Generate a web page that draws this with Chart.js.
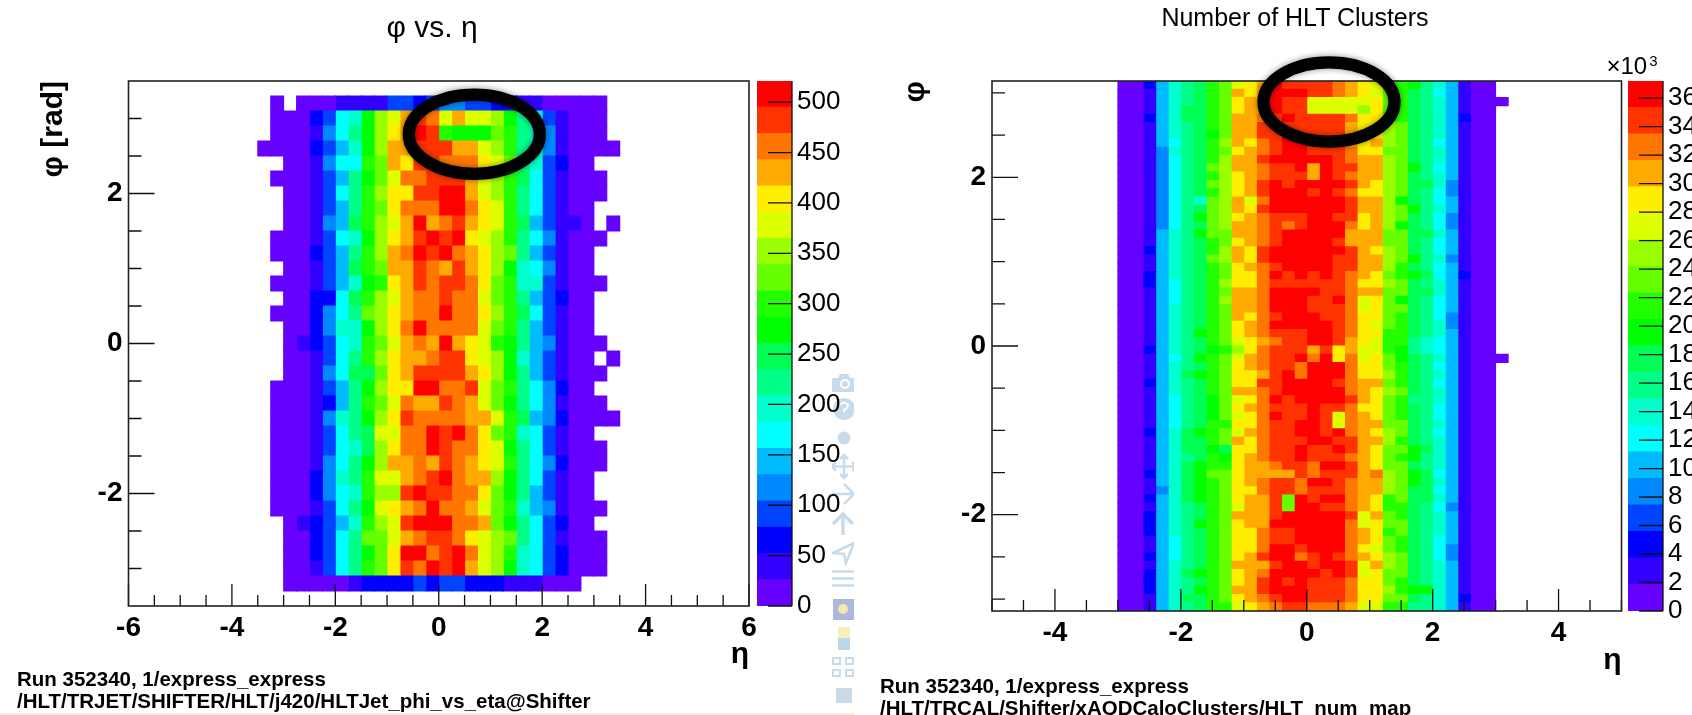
<!DOCTYPE html>
<html><head><meta charset="utf-8">
<script src="https://cdn.jsdelivr.net/npm/chart.js@4"></script>
<style>
html,body{margin:0;padding:0;background:#fff;width:1692px;height:715px;overflow:hidden}
canvas{position:absolute;top:0}
.foot{position:absolute;font:bold 20.5px "Liberation Sans",Arial,sans-serif;color:#000;white-space:nowrap;line-height:22px}
.ttl{position:absolute;font-family:"Liberation Sans",Arial,sans-serif;color:#000;white-space:nowrap;transform:translate(-50%,-50%);line-height:1.2}
sup{font-size:15px;line-height:0;vertical-align:8px;margin-left:2px}
</style></head><body>
<svg style="position:absolute;left:832px;top:370px" width="22" height="340" viewBox="832 370 22 340" fill="#c8dbeb" stroke="none">
  <path d="M832 378h6l2-4h8l2 4h6v14h-24z"/><circle cx="845" cy="384" r="5" fill="#fff"/><circle cx="845" cy="384" r="3"/>
  <circle cx="844" cy="409" r="11"/><path d="M840 405q4-5 8 0q0 3-4 5v2" fill="none" stroke="#fff" stroke-width="2"/>
  <circle cx="844" cy="438" r="6.5"/>
  <path d="M844 455v23M832 466.500h22M840 459l4-4 4 4M840 474l4 4 4-4M836 462l-4 4.500 4 4.500M852 462l4 4.500-4 4.500" fill="none" stroke="#c8dbeb" stroke-width="2.500"/>
  <path d="M832 494h22M844 484l10 10-10 10" fill="none" stroke="#c8dbeb" stroke-width="2.500"/>
  <path d="M843 535v-20M833 524l10-10 10 10" fill="none" stroke="#c8dbeb" stroke-width="3.500"/>
  <path d="M833 553l21-10-8 20-2-9z" fill="none" stroke="#c8dbeb" stroke-width="2.500"/>
  <path d="M832 571.500h22M832 578.500h22M832 585.500h22" fill="none" stroke="#c8dbeb" stroke-width="2.500"/>
  <rect x="833" y="599" width="21" height="21" fill="#aab8e0"/><circle cx="843" cy="609" r="5" fill="#f3e9a8"/>
  <rect x="838" y="627" width="12" height="11" fill="#f9efb8"/><rect x="838" y="638" width="12" height="12" fill="#bcd6ea"/>
  <path d="M833 658h7v6h-7zM846 658h7v6h-7zM833 670h7v6h-7zM846 670h7v6h-7z" fill="none" stroke="#c8dbeb" stroke-width="2"/>
  <rect x="836" y="688" width="16" height="15"/>
</svg>
<div style="position:absolute;left:0;top:713px;width:854px;height:2px;background:#ecefe0"></div>
<canvas id="leftMap" width="864" height="715" style="left:0"></canvas>
<canvas id="leftBar" width="100" height="715" style="left:757px"></canvas>
<canvas id="rightMap" width="794" height="715" style="left:898px"></canvas>
<canvas id="rightBar" width="64" height="715" style="left:1628px"></canvas>
<div class="ttl" style="left:432px;top:27px;font-size:30px">φ vs. η</div>
<div class="ttl" style="left:1295px;top:17px;font-size:25px">Number of HLT Clusters</div>
<div class="ttl" style="left:1632px;top:66px;font-size:24px">×10<sup>3</sup></div>
<div class="foot" style="left:17px;top:668px">Run 352340, 1/express_express<br>/HLT/TRJET/SHIFTER/HLT/j420/HLTJet_phi_vs_eta@Shifter</div>
<div class="foot" style="left:880px;top:675px">Run 352340, 1/express_express<br>/HLT/TRCAL/Shifter/xAODCaloClusters/HLT_num_map</div>
<script>
const _ = null;
// ROOT rainbow palette, lowest band first
const palette = ['#6600FF','#3300FF','#0000FF','#0044FF','#0088FF','#00BBFF','#00FFFF','#00FFCC','#00FF88','#00FF55',
  '#00FF00','#22FF00','#66FF00','#99FF00','#DDFF00','#FFEE00','#FFAA00','#FF7700','#FF3300','#FF0000'];

// Left panel: colour band read for each cell; rows run from the top (phi max), 28 eta bins
const jetRows = [
[_,0,_,0,0,0,1,1,1,1,3,3,2,3,4,4,3,3,2,2,1,1,0,0,0,0,0,_],
[_,0,0,0,2,3,6,7,10,13,14,16,18,17,14,16,14,14,13,10,8,6,3,1,0,0,0,_],
[_,0,0,0,1,4,6,8,10,13,15,16,19,18,11,10,10,10,12,11,8,7,4,1,0,0,0,_],
[0,0,0,0,2,3,5,7,10,13,16,16,18,18,18,16,16,14,13,11,8,7,4,1,0,0,0,0],
[_,_,0,0,1,4,6,6,11,12,16,15,18,18,17,17,17,15,14,12,8,7,3,2,0,0,_,_],
[_,0,0,0,1,3,5,8,10,12,14,17,17,18,18,18,16,14,13,11,9,6,3,1,0,0,0,_],
[_,_,0,0,1,3,6,8,11,13,15,15,18,18,19,19,16,14,13,11,8,6,3,1,0,0,0,_],
[_,_,0,0,1,3,5,8,11,12,15,17,17,17,19,19,17,15,14,11,8,6,3,1,0,0,_,_],
[_,_,0,0,1,4,5,9,11,13,14,16,19,16,17,18,16,15,14,11,9,5,3,1,1,0,_,0],
[_,0,0,0,1,3,6,7,10,13,15,16,18,19,18,19,15,14,13,11,8,6,4,1,0,0,0,_],
[_,0,0,0,2,3,5,8,11,13,16,17,19,18,19,17,16,15,13,12,8,5,3,1,0,0,_,_],
[_,_,0,0,1,3,5,9,11,12,16,16,18,17,16,18,16,15,13,10,7,6,4,1,0,0,_,_],
[_,0,0,0,1,3,5,7,10,11,15,16,18,17,18,18,17,15,12,11,7,7,3,1,0,0,0,_],
[_,_,0,0,2,2,6,9,11,13,14,16,17,17,18,17,17,14,12,11,8,5,3,2,0,0,_,_],
[_,0,0,0,2,4,6,8,12,13,15,16,17,17,19,17,17,15,13,11,9,6,3,1,0,0,_,_],
[_,_,0,0,2,4,7,7,10,13,15,17,19,17,17,17,17,14,12,11,8,5,3,1,0,0,_,_],
[_,_,0,1,2,3,6,7,11,12,14,16,17,16,19,16,15,14,11,10,8,5,4,1,0,0,0,_],
[_,_,0,0,1,3,6,8,11,13,15,16,16,17,18,18,15,14,13,10,7,5,3,1,0,0,_,0],
[_,_,0,0,1,4,6,9,9,12,15,16,18,18,18,18,16,15,13,10,8,5,3,1,0,0,0,_],
[_,0,0,0,1,3,5,8,10,13,15,15,19,19,17,17,18,14,12,11,8,6,4,2,0,0,_,_],
[_,0,0,0,1,2,5,8,11,12,14,17,16,16,18,17,16,14,12,10,8,6,4,1,0,0,0,_],
[_,0,0,0,1,4,7,8,10,13,15,18,17,17,17,17,16,16,14,11,9,5,4,2,0,0,0,0],
[_,0,0,0,1,3,6,8,9,14,14,17,17,19,18,19,17,15,12,11,7,6,3,1,0,0,_,_],
[_,0,0,0,1,3,6,7,9,13,15,17,17,19,18,17,17,15,14,10,8,6,3,1,0,0,0,_],
[_,0,0,0,1,4,6,8,10,13,16,16,17,16,18,17,16,15,14,11,8,6,4,2,0,0,0,_],
[_,0,0,0,2,4,7,8,11,14,14,16,17,18,19,17,16,16,13,10,8,6,3,1,0,0,_,_],
[_,0,0,0,2,4,6,7,11,13,13,18,19,18,18,17,17,15,12,10,8,5,3,1,0,0,_,_],
[_,0,0,0,1,3,6,8,10,14,15,16,17,19,17,17,16,14,12,11,7,5,4,1,0,0,0,_],
[_,_,0,1,2,3,5,7,11,13,14,18,19,19,19,17,17,16,12,10,8,6,3,2,0,0,_,_],
[_,_,0,0,2,3,6,8,12,12,14,16,17,18,18,17,15,14,13,12,8,6,3,1,0,0,0,_],
[_,_,0,0,2,3,6,8,10,12,15,19,19,17,18,19,17,14,13,11,7,6,3,2,0,0,0,_],
[_,_,0,0,1,3,6,8,11,12,15,18,17,19,18,19,16,14,13,10,7,6,3,2,0,0,0,_],
[_,_,0,0,0,0,0,1,2,2,2,2,3,2,3,3,2,2,2,1,1,1,0,0,0,_,_,_]
];

// Right panel: colour band read for each cell; columns run from eta -3 in 0.2 steps, 64 phi bins from the top
const edge = [0,0,0,0,0,0,0,0,0,0,0,0,0,0,0,0, 0,0,0,0,0,0,0,0,0,0,0,0,0,0,0,0, 0,0,0,0,0,0,0,0,0,0,0,0,0,0,0,0, 0,0,0,0,0,0,0,0,0,0,0,0,0,0,0,0];
const c2=[2,1,1,1,2,1,1,1,1,1,1,1,1,1,1,1, 1,1,1,1,2,1,1,2,2,1,1,1,1,1,1,1, 2,1,1,1,2,1,1,1,1,1,2,1,1,1,1,2, 1,1,2,1,2,2,2,1,1,2,1,2,2,2,1,1];
const c3=[5,5,5,5,5,5,5,5,4,4,4,4,4,4,4,4, 4,4,5,5,5,5,5,5,5,5,5,5,5,5,5,5, 5,5,5,5,5,5,5,5,5,5,5,5,5,5,5,5, 5,4,5,5,5,5,5,5,5,5,5,5,5,5,5,5];
const c4=[7,7,7,7,7,7,7,6,7,6,6,6,6,6,6,6, 6,6,7,7,7,7,7,7,6,6,6,7,7,7,7,7, 7,6,7,7,7,7,6,6,6,6,7,7,7,7,7,7, 7,7,7,7,7,7,7,6,6,6,7,7,7,7,7,7];
const c5=[8,8,8,9,9,8,8,8,8,8,8,8,8,8,8,8, 8,8,8,8,8,8,8,8,8,8,8,8,8,8,8,8, 8,8,8,9,8,8,8,8,8,8,9,9,9,8,9,9, 9,9,9,8,8,8,8,8,8,8,8,9,8,8,9,8];
const c6=[9,9,9,9,9,9,9,9,9,9,9,9,9,9,7,9, 10,9,10,9,9,9,9,9,9,9,9,9,9,9,10,9, 9,10,9,10,9,9,9,9,9,9,10,9,9,9,10,10, 10,10,10,9,9,10,9,9,9,9,9,10,9,10,9,9];
const c7=[11,11,11,11,11,11,10,11,11,11,12,11,12,11,12,12, 12,12,12,11,11,12,11,11,11,11,11,11,11,11,11,11, 10,11,11,11,11,11,10,10,10,11,11,11,10,11,11,12, 11,11,11,11,11,11,11,11,11,11,11,11,11,11,11,11];
const c8=[12,12,12,12,12,12,12,13,12,13,13,13,13,13,13,13, 13,13,12,12,13,13,12,12,13,12,13,12,12,12,12,12, 11,12,12,12,12,12,12,12,12,11,12,12,9,10,11,12, 12,12,12,12,12,12,12,12,12,12,12,12,12,12,12,11];
const c9=[14,16,15,15,16,16,16,16,15,16,16,15,15,15,16,16, 15,16,16,15,16,16,15,15,15,16,16,16,16,15,15,14, 13,14,15,15,15,16,14,15,14,15,14,16,15,15,15,15, 15,15,15,14,16,15,15,15,15,15,16,15,15,16,15,14];
const c10=[15,15,16,16,16,16,16,15,16,16,16,16,16,16,14,15, 16,16,16,16,15,15,16,15,15,16,16,16,15,16,16,15, 15,16,16,15,15,16,15,16,15,15,16,15,15,16,16,16, 16,15,16,16,16,16,15,15,15,16,16,16,16,16,16,15];
const c11=[16,16,16,16,17,18,18,17,17,18,17,17,18,18,17,18, 17,17,17,17,18,18,17,17,17,17,17,17,17,17,17,16, 17,17,17,16,18,17,17,17,17,17,17,17,17,17,16,16, 17,17,16,16,16,16,17,17,17,18,16,17,18,18,17,16];
const c12=[19,19,19,19,18,18,18,18,18,19,18,18,19,19,19,19, 18,18,18,18,19,19,18,19,18,19,19,19,18,19,18,17, 18,18,18,18,18,18,19,18,19,18,18,18,18,18,17,16, 18,18,18,18,18,19,18,18,19,19,18,19,19,19,18,17];
const c13=[18,19,18,18,19,18,19,19,19,19,18,18,18,19,19,19, 18,17,19,19,19,19,19,18,18,19,19,19,19,19,18,18, 18,18,18,19,19,19,18,18,18,18,18,18,18,18,18,16, 18,18,12,12,19,19,18,18,19,19,19,19,18,19,19,18];
const c14=[18,19,18,18,18,18,18,19,19,19,19,18,19,19,19,19, 18,18,19,19,19,19,19,19,18,19,19,19,19,19,18,18, 18,19,17,17,19,19,19,18,18,19,19,18,19,19,18,18, 17,17,19,19,19,19,19,19,18,17,19,19,19,19,19,18];
const c15=[18,18,14,14,18,18,18,18,18,19,16,16,19,18,19,19, 19,19,19,19,19,19,19,18,18,19,18,18,19,19,19,19, 16,17,19,19,19,19,19,19,19,19,19,19,18,18,17,17, 19,18,18,19,19,19,19,19,19,18,18,19,18,18,18,17];
const c16=[18,18,14,14,18,18,18,19,18,19,19,19,19,19,19,19, 19,19,19,19,19,19,19,19,18,18,18,18,18,19,19,19, 18,19,19,19,19,19,19,18,18,18,18,19,18,18,19,18, 19,18,19,18,19,19,19,19,19,19,19,18,18,18,18,17];
const c17=[17,17,14,14,18,18,18,18,18,18,18,18,19,18,19,19, 18,19,19,18,19,18,18,18,18,18,19,18,18,18,18,18, 15,15,19,19,18,19,19,18,14,14,19,18,19,18,19,18, 18,18,19,18,19,19,19,19,19,18,19,19,18,18,18,17];
const c18=[16,16,14,14,17,16,16,16,17,17,18,17,18,17,18,18, 18,17,16,16,18,18,18,17,17,17,17,17,17,17,17,16, 16,17,17,17,17,17,18,17,17,17,17,18,18,17,18,18, 17,17,17,17,18,17,17,17,17,17,18,18,17,17,17,16];
const c19=[15,15,14,13,15,15,15,15,15,16,16,16,16,15,16,16, 15,15,16,16,16,16,16,16,15,16,14,14,15,15,15,15, 14,14,15,15,16,16,16,15,16,16,16,16,16,16,16,16, 16,16,16,16,14,14,16,16,15,16,14,14,15,15,15,14];
const c20=[14,14,15,15,15,15,15,16,15,16,16,16,15,15,16,16, 16,16,16,16,15,16,16,15,15,16,15,15,15,14,15,14, 14,15,15,15,16,15,15,15,15,16,15,16,15,15,15,17, 16,16,15,15,16,15,15,15,14,15,16,15,15,15,15,14];
const c21=[12,12,12,12,12,13,13,13,12,13,13,13,13,13,13,13, 13,13,12,12,13,13,13,12,13,12,12,12,12,12,11,11, 11,12,12,13,12,13,12,12,12,12,13,13,12,12,12,13, 13,13,11,11,12,12,11,12,12,13,13,12,12,13,12,11];
const c22=[11,11,11,11,11,12,12,12,12,12,12,12,12,12,10,12, 12,10,12,12,12,12,11,11,12,12,10,12,11,11,11,11, 10,10,11,11,11,12,11,11,11,12,12,11,12,11,12,12, 12,12,12,11,11,12,12,11,11,12,12,12,11,11,12,11];
const c23=[10,9,9,9,9,9,9,9,9,9,10,9,9,9,9,10, 9,9,9,9,9,10,9,10,9,9,9,9,9,9,9,8, 8,9,9,9,9,9,8,9,9,9,9,9,10,10,9,10, 10,9,9,9,9,9,9,9,9,9,9,9,9,10,9,8];
const c24=[8,8,8,8,8,8,8,8,8,8,8,8,9,8,8,8, 8,8,9,8,8,8,8,9,8,9,8,8,8,8,8,7, 7,8,8,8,8,8,8,8,8,8,8,8,9,8,8,9, 9,9,9,8,8,8,8,8,8,8,8,8,8,10,8,8];
const c25=[7,6,7,7,7,7,7,6,7,7,6,7,7,6,6,7, 6,6,7,6,6,7,6,6,7,7,6,6,6,7,7,6, 6,7,6,7,6,7,7,6,6,7,6,7,7,7,7,6, 7,6,7,6,7,7,7,6,6,6,7,7,7,7,7,7];
const c26=[5,5,5,5,5,5,5,5,5,5,5,5,4,4,5,5, 4,4,5,5,5,4,5,5,5,5,5,5,4,4,5,5, 5,5,5,5,5,5,5,5,5,5,5,5,5,5,5,5, 5,5,5,4,5,5,5,5,4,4,5,5,5,5,5,5];
const c27=[1,1,1,1,2,1,1,1,1,1,1,1,1,1,1,1, 1,1,1,1,1,1,1,2,1,1,1,1,1,1,1,1, 1,1,1,1,1,1,1,1,1,1,1,1,1,1,1,1, 1,1,1,1,1,1,1,1,1,1,1,1,1,1,2,1];
const c30=[_,_,0,_,_,_,_,_,_,_,_,_,_,_,_,_, _,_,_,_,_,_,_,_,_,_,_,_,_,_,_,_, _,0,_,_,_,_,_,_,_,_,_,_,_,_,_,_, _,_,_,_,_,_,_,_,_,_,_,_,_,_,_,_];
const clusterColumns = [edge,edge,c2,c3,c4,c5,c6,c7,c8,c9,c10,c11,c12,c13,c14,c15,c16,c17,c18,c19,c20,c21,c22,c23,c24,c25,c26,c27,edge,edge,c30];

const etaLeftTicks = [-6,-5.5,-5,-4.5,-4,-3.5,-3,-2.5,-2,-1.5,-1,-0.5,0,0.5,1,1.5,2,2.5,3,3.5,4,4.5,5,5.5,6];
const etaRightTicks = [-5,-4.5,-4,-3.5,-3,-2.5,-2,-1.5,-1,-0.5,0,0.5,1,1.5,2,2.5,3,3.5,4,4.5,5];
const phiTicks = [-3,-2.5,-2,-1.5,-1,-0.5,0,0.5,1,1.5,2,2.5,3];
const leftScaleTicks = [0,50,100,150,200,250,300,350,400,450,500];
const rightScaleTicks = [0,2,4,6,8,10,12,14,16,18,20,22,24,26,28,30,32,34,36];

const FONT = '"Liberation Sans",Arial,sans-serif';
const transpose = rows => rows[0].map((_u,c)=>rows.map(r=>r[c]));

// one bar dataset per eta column, each floating bar is one phi cell
function cellDatasets(columns, etaStart, etaStep, phiTop, phiStep){
  return columns.map((col,c)=>{
    const data=[], colors=[];
    col.forEach((band,r)=>{
      if(band===null) return;
      data.push({x:etaStart+(c+0.5)*etaStep, y:[phiTop-(r+1)*phiStep, phiTop-r*phiStep]});
      colors.push(palette[band]);
    });
    return {data, backgroundColor:colors, borderWidth:0, inflateAmount:0.5, grouped:false,
            barPercentage:1, categoryPercentage:1};
  });
}

const frameAndTicks = {
  id:'frameAndTicks',
  afterDatasetsDraw(chart,_a,o){
    const {ctx,chartArea:a,scales:{x,y}}=chart;
    ctx.save();
    ctx.strokeStyle='#111'; ctx.lineWidth=1.3;
    ctx.beginPath();
    x.ticks.forEach(t=>{const p=x.getPixelForValue(t.value),l=t.value%2===0?22:11;ctx.moveTo(p,a.bottom);ctx.lineTo(p,a.bottom-l);});
    y.ticks.forEach(t=>{const p=y.getPixelForValue(t.value),l=t.value%2===0?26:13;ctx.moveTo(a.left,p);ctx.lineTo(a.left+l,p);});
    ctx.stroke();
    ctx.lineWidth=1.6; ctx.strokeStyle='#222';
    ctx.strokeRect(a.left,a.top,a.right-a.left,a.bottom-a.top);
    // hand-drawn marker ring
    ctx.lineWidth=o.ring.w; ctx.strokeStyle='#000';
    ctx.shadowColor='rgba(0,0,0,0.45)'; ctx.shadowBlur=6;
    ctx.beginPath(); ctx.ellipse(o.ring.cx,o.ring.cy,o.ring.rx,o.ring.ry,0,0,Math.PI*2); ctx.stroke();
    ctx.restore();
  }
};

function heatmap(id,{columns,etaStart,etaStep,phiTop,phiStep,xMin,xMax,yMin,yMax,xTicks,yTitle,pad,xH,yW,ring}){
  new Chart(document.getElementById(id),{
    type:'bar',
    data:{datasets:cellDatasets(columns,etaStart,etaStep,phiTop,phiStep)},
    plugins:[frameAndTicks],
    options:{
      responsive:false,animation:false,events:[],
      layout:{autoPadding:false,padding:pad},
      plugins:{legend:{display:false},tooltip:{enabled:false},frameAndTicks:{ring}},
      scales:{
        x:{type:'linear',min:xMin,max:xMax,offset:false,grid:{display:false,drawTicks:false},border:{display:false},
          afterBuildTicks:s=>{s.ticks=xTicks.map(v=>({value:v}));},
          afterFit:s=>{s.height=xH;},
          ticks:{autoSkip:false,maxRotation:0,color:'#000',padding:5,font:{family:FONT,size:28,weight:'bold'},
            callback:v=>v%2===0?String(v):''},
          title:{display:true,text:'η',align:'end',color:'#000',padding:0,font:{family:FONT,size:30,weight:'bold',lineHeight:1.2}}},
        y:{type:'linear',min:yMin,max:yMax,grid:{display:false,drawTicks:false},border:{display:false},
          afterBuildTicks:s=>{s.ticks=phiTicks.map(v=>({value:v}));},
          afterFit:s=>{s.width=yW;},
          ticks:{autoSkip:false,color:'#000',padding:6,font:{family:FONT,size:28,weight:'bold'},
            callback:v=>v%2===0?String(v):''},
          title:{display:true,text:yTitle,align:'end',color:'#000',padding:0,font:{family:FONT,size:30,weight:'bold',lineHeight:1.2}}}
      }
    }
  });
}

const colorbarTicks = {
  id:'colorbarTicks',
  afterDatasetsDraw(chart){
    const {ctx,chartArea:a,scales:{y}}=chart;
    ctx.save(); ctx.strokeStyle='#111'; ctx.lineWidth=1.3; ctx.beginPath();
    y.ticks.forEach(t=>{const p=y.getPixelForValue(t.value);ctx.moveTo(a.right,p);ctx.lineTo(a.right-24,p);});
    ctx.moveTo(a.right,a.top);ctx.lineTo(a.right,a.bottom);
    ctx.stroke(); ctx.restore();
  }
};

function colorbar(id,{zMax,ticks,barW,canvasW,bottomPad}){
  const step=zMax/palette.length;
  new Chart(document.getElementById(id),{
    type:'bar',
    data:{labels:[''],datasets:palette.map((c,i)=>({data:[[i*step,(i+1)*step]],backgroundColor:c,borderWidth:0,inflateAmount:0.5,grouped:false,barPercentage:1,categoryPercentage:1}))},
    plugins:[colorbarTicks],
    options:{
      responsive:false,animation:false,events:[],
      layout:{autoPadding:false,padding:{top:81,bottom:bottomPad}},
      plugins:{legend:{display:false},tooltip:{enabled:false}},
      scales:{
        x:{display:false},
        y:{position:'right',min:0,max:zMax,grid:{display:false,drawTicks:false},border:{display:false},
          afterBuildTicks:s=>{s.ticks=ticks.map(v=>({value:v}));},
          afterFit:s=>{s.width=canvasW-barW;},
          ticks:{autoSkip:false,color:'#000',padding:5,font:{family:FONT,size:26},callback:v=>String(v)}}
      }
    }
  });
}

heatmap('leftMap',{columns:transpose(jetRows),etaStart:-3.5,etaStep:0.25,phiTop:3.3,phiStep:0.2,
  xMin:-6,xMax:6,yMin:-3.5,yMax:3.5,xTicks:etaLeftTicks,yTitle:'φ [rad]',
  pad:{left:36,right:115,top:81,bottom:42},xH:67,yW:92.5,ring:{cx:474.3,cy:134.2,rx:65.5,ry:39.6,w:12.3}});
heatmap('rightMap',{columns:clusterColumns,etaStart:-3,etaStep:0.2,phiTop:3.14159,phiStep:0.09817477,
  xMin:-5,xMax:5,yMin:-3.14159,yMax:3.14159,xTicks:etaRightTicks,yTitle:'φ',
  pad:{left:0,right:70.5,top:81,bottom:36},xH:68,yW:94,ring:{cx:431,cy:102,rx:65.5,ry:39.6,w:12.3}});
colorbar('leftBar',{zMax:521,ticks:leftScaleTicks,barW:35,canvasW:100,bottomPad:109});
colorbar('rightBar',{zMax:37.2,ticks:rightScaleTicks,barW:35,canvasW:64,bottomPad:104});
</script>
</body></html>
